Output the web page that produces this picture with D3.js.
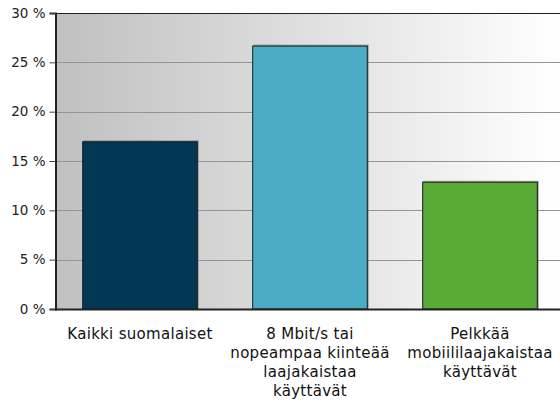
<!DOCTYPE html>
<html><head><meta charset="utf-8">
<script src="https://cdn.jsdelivr.net/npm/d3@7"></script>
<style>body{margin:0;background:#fff}svg{display:block;font-family:"DejaVu Sans",Verdana,sans-serif}</style>
</head><body><svg id="c" width="560" height="403"></svg>
<script>
const categories = ["Kaikki suomalaiset", "8 Mbit/s tai nopeampaa kiinteää laajakaistaa käyttävät", "Pelkkää mobiililaajakaistaa käyttävät"];
const labelLines = [["Kaikki suomalaiset"], ["8 Mbit/s tai", "nopeampaa kiinteää", "laajakaistaa", "käyttävät"], ["Pelkkää", "mobiililaajakaistaa", "käyttävät"]];
const values = [17.0, 26.7, 12.9];
const colors = ["#003755", "#4bacc6", "#5aaa36"];
const yTicks = [0, 5, 10, 15, 20, 25, 30];

const svg = d3.select("#c");
const m = {l: 55, t: 13, b: 94};
const W = 560, H = 403;
const x = d3.scaleBand().domain(categories).range([m.l, 565]).paddingInner(0.32).paddingOuter(0.16);
const y = d3.scaleLinear().domain([0, 30]).range([H - m.b, m.t]);

const defs = svg.append("defs");
const g = defs.append("linearGradient").attr("id", "bg").attr("x1", 0).attr("x2", 1).attr("y1", 0).attr("y2", 0);
g.append("stop").attr("offset", 0).attr("stop-color", "#c0c0c0");
g.append("stop").attr("offset", 1).attr("stop-color", "#ffffff");

svg.append("rect").attr("x", m.l).attr("y", m.t).attr("width", W - m.l).attr("height", y(0) - m.t).attr("fill", "url(#bg)");

svg.append("g").selectAll("line").data(yTicks.filter(d => d > 0 && d < 30)).join("line")
  .attr("x1", m.l).attr("x2", W).attr("y1", d => Math.round(y(d)) + 0.5).attr("y2", d => Math.round(y(d)) + 0.5)
  .attr("stroke", "#8a95a5").attr("stroke-width", 1);
svg.append("line").attr("x1", m.l).attr("x2", W).attr("y1", m.t + 0.5).attr("y2", m.t + 0.5).attr("stroke", "#222");

svg.append("g").selectAll("rect").data(values).join("rect")
  .attr("x", (d, i) => x(categories[i]) + 1).attr("y", d => y(d) - 1)
  .attr("width", x.bandwidth()).attr("height", d => y(0) - y(d) + 1)
  .attr("fill", "#777").attr("opacity", 0.6);
svg.append("g").selectAll("rect").data(values).join("rect")
  .attr("x", (d, i) => x(categories[i]) + 0.5).attr("y", d => y(d) + 0.5)
  .attr("width", x.bandwidth() - 1).attr("height", d => y(0) - y(d) - 0.5)
  .attr("fill", (d, i) => colors[i]).attr("stroke", "#1a1a1a").attr("stroke-width", 1);

const ya = svg.append("g").attr("transform", `translate(${m.l + 0.5},0)`)
  .call(d3.axisLeft(y).tickValues(yTicks).tickSize(6).tickPadding(4).tickFormat(d => d + " %"));
ya.attr("font-size", 13.5).attr("font-family", "DejaVu Sans, Verdana, sans-serif");
ya.select(".domain").attr("stroke", "#222").attr("stroke-width", 2);
ya.selectAll(".tick line").attr("stroke", "#444");
ya.selectAll("text").attr("fill", "#222");

svg.append("line").attr("x1", m.l).attr("x2", W).attr("y1", y(0) + 0.5).attr("y2", y(0) + 0.5).attr("stroke", "#222").attr("stroke-width", 2);

const lab = svg.append("g").attr("font-size", 15).attr("letter-spacing", 0.3);
categories.forEach((c, i) => {
  const cx = x(c) + x.bandwidth() / 2;
  const t = lab.append("text").attr("text-anchor", "middle").attr("fill", "#111").attr("x", cx).attr("y", 339);
  labelLines[i].forEach((s, k) => t.append("tspan").attr("x", cx).attr("dy", k === 0 ? 0 : 19).text(s));
});
</script></body></html>
